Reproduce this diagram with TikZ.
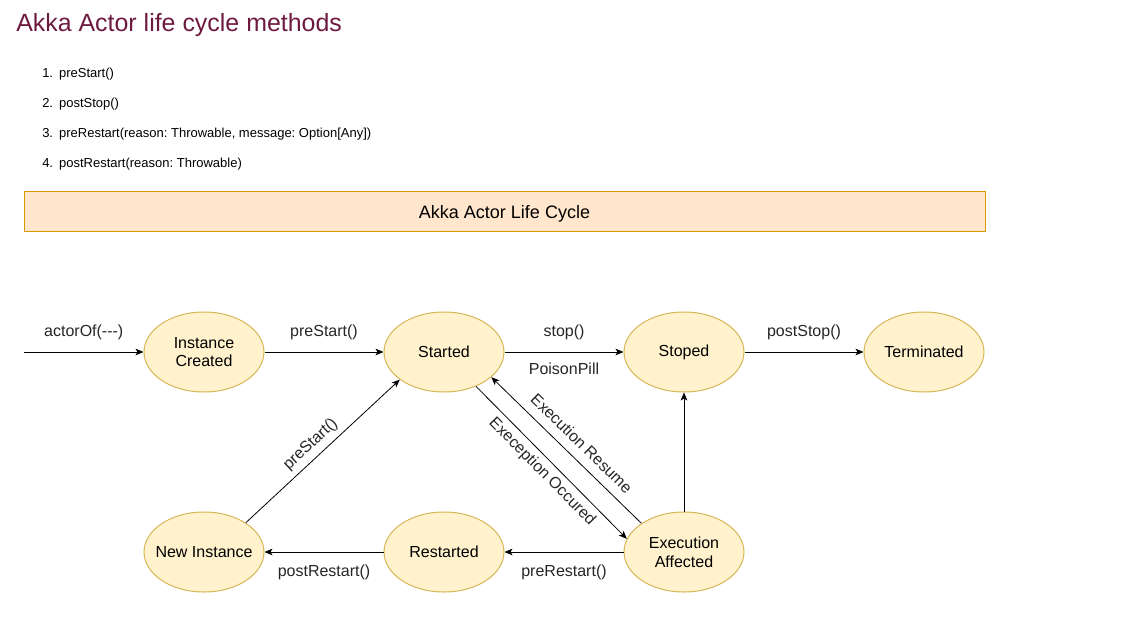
\documentclass[tikz,border=0pt]{standalone}
\usepackage{fontspec}
\setmainfont{Liberation Sans}
\usetikzlibrary{arrows.meta}
\usetikzlibrary{shapes.geometric}
\frenchspacing
\newcommand{\statewidth}{90pt}
\newcommand{\stateheight}{60pt}
\definecolor{titlered}{HTML}{6E1A40}
\definecolor{statefill}{HTML}{FFF2CC}
\definecolor{stateline}{HTML}{D6B656}
\definecolor{headfill}{HTML}{FFE6CC}
\definecolor{headline}{HTML}{D79B00}

\begin{document}
\begin{tikzpicture}[x=0.75pt,y=-0.75pt]
                \useasboundingbox (0,0) rectangle (1121,618);

                % title and list of methods
                \node[anchor=base west,inner sep=0,text=titlered,font=\fontsize{18.7}{22}\selectfont] (title) at (16,31) {Akka Actor life cycle methods};
                \begin{scope}[every node/.style={anchor=base west,inner sep=0,font=\fontsize{9.75}{12}\selectfont}]
                    \node (m1) at (42,77) {1.\hspace{4.5pt}preStart()};
                    \node (m2) at (42,107) {2.\hspace{4.5pt}postStop()};
                    \node (m3) at (42,137) {3.\hspace{4.5pt}preRestart(reason: Throwable, message: Option[Any])};
                    \node (m4) at (42,167) {4.\hspace{4.5pt}postRestart(reason: Throwable)};
                \end{scope}

                \node[draw=headline,fill=headfill,line width=0.75pt,minimum width=720.75pt,minimum height=30pt,text height=11.1pt,text depth=0pt,font=\fontsize{13.5}{16}\selectfont] (header) at (504.5,211) {Akka Actor Life Cycle};

                \begin{scope}[every node/.style={ellipse,draw=stateline,fill=statefill,line width=0.75pt,inner sep=0,inner xsep=-10pt,minimum width=\statewidth,minimum height=\stateheight,align=center,font=\fontsize{12}{14}\selectfont}]
                    \node (created) at (204,352) {Instance\\Created};
                    \node (started) at (444,352) {Started};
                    \node (stoped) at (684,352) {Stoped};
                    \node (terminated) at (924,352) {Terminated};
                    \node (newinst) at (204,552) {New Instance};
                    \node (restarted) at (444,552) {Restarted};
                    \node (affected) at (684,552) {Execution\\Affected};
                \end{scope}
                \coordinate (entry) at (24,352);

                \begin{scope}[>={Stealth[black,length=6pt,width=5pt,inset=1.5pt]},
                    every edge/.style={draw=black,line width=0.6pt},
                    every node/.style={inner sep=0,font=\fontsize{12}{14}\selectfont,text=black!85}]
                    \path [->] (entry) edge node[above=9pt] {actorOf({-}{-}{-})} (created);
                    \path [->] (created) edge node[above=9pt] {preStart()} (started);
                    \path [->] (started) edge node[above=9pt] {stop()} node[below=7.5pt] {PoisonPill} (stoped);
                    \path [->] (stoped) edge node[above=9pt] {postStop()} (terminated);

                    \path [->] (started.-47) edge node[sloped,below=4pt] {Exeception Occured} (affected.167);
                    \path [->] (affected.146) edge node[sloped,pos=0.47,above=7pt] {Execution Resume} (started.-28);
                    \path [->] (affected) edge (stoped);

                    \path [->] (affected) edge node[below=9pt] {preRestart()} (restarted);
                    \path [->] (restarted) edge node[below=9pt] {postRestart()} (newinst);
                    \path [->] (newinst.35) edge node[sloped,pos=0.48,above=4pt] {preStart()} (started.212);
                \end{scope}
            \end{tikzpicture}
\end{document}
